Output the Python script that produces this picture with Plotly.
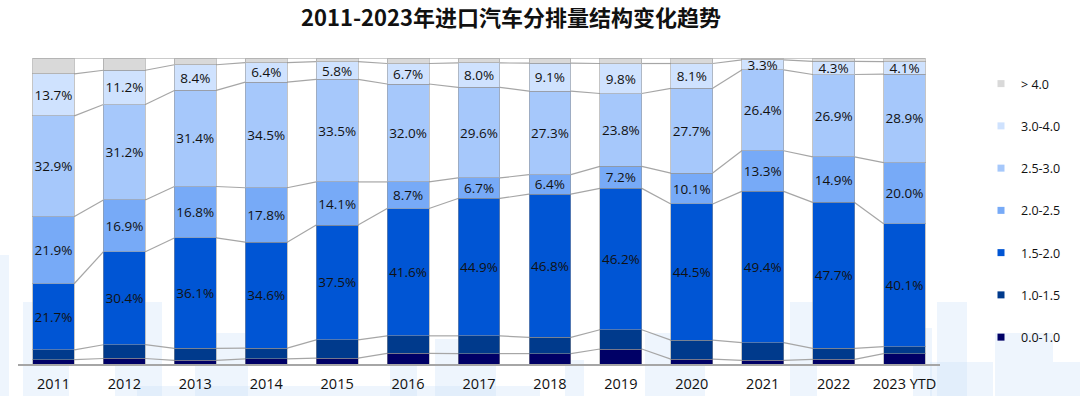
import plotly.graph_objects as go

years = ["2011", "2012", "2013", "2014", "2015", "2016", "2017", "2018",
         "2019", "2020", "2021", "2022", "2023 YTD"]

# share (%) by engine displacement, bottom to top
s_00_10 = [1.4, 1.8, 1.2, 1.7, 1.9, 3.5, 3.4, 3.4, 4.9, 1.6, 1.2, 1.5, 3.4]
s_10_15 = [3.2, 4.5, 3.9, 3.5, 6.0, 5.7, 5.8, 5.3, 6.3, 6.2, 5.8, 3.6, 2.3]
s_15_20 = [21.7, 30.4, 36.1, 34.6, 37.5, 41.6, 44.9, 46.8, 46.2, 44.5, 49.4, 47.7, 40.1]
s_20_25 = [21.9, 16.9, 16.8, 17.8, 14.1, 8.7, 6.7, 6.4, 7.2, 10.1, 13.3, 14.9, 20.0]
s_25_30 = [32.9, 31.2, 31.4, 34.5, 33.5, 32.0, 29.6, 27.3, 23.8, 27.7, 26.4, 26.9, 28.9]
s_30_40 = [13.7, 11.2, 8.4, 6.4, 5.8, 6.7, 8.0, 9.1, 9.8, 8.1, 3.3, 4.3, 4.1]
s_gt_40 = [5.2, 4.0, 2.2, 1.5, 1.2, 1.8, 1.6, 1.7, 1.8, 1.8, 0.6, 1.1, 1.2]

series = [
    ("0.0-1.0", s_00_10, "#000066", False),
    ("1.0-1.5", s_10_15, "#003a8c", False),
    ("1.5-2.0", s_15_20, "#0055d4", True),
    ("2.0-2.5", s_20_25, "#77aaf7", True),
    ("2.5-3.0", s_25_30, "#a6c8fb", True),
    ("3.0-4.0", s_30_40, "#cfe2fe", True),
    ("> 4.0", s_gt_40, "#d9d9d9", False),
]

BAR_W = 0.59
fig = go.Figure()

# decorative faint background blocks (pixel boxes -> paper coords)
L, R, T, B = 18, 940, 58, 364
deco = [(0, 255, 9, 396), (23, 302, 69, 396), (115, 302, 162, 396),
        (137, 386, 540, 396), (195, 333, 248, 396), (390, 328, 417, 396),
        (435, 339, 496, 396), (565, 360, 584, 396), (645, 333, 705, 396),
        (790, 302, 817, 396), (913, 328, 932, 396), (937, 302, 967, 396),
        (930, 362, 993, 396), (995, 333, 1053, 396), (1053, 362, 1080, 396)]
shapes = []
for x0, y0, x1, y1 in deco:
    shapes.append(dict(type="rect", xref="paper", yref="paper", layer="below",
                       x0=(x0 - L) / (R - L), x1=(x1 - L) / (R - L),
                       y0=(B - y1) / (B - T), y1=(B - y0) / (B - T),
                       fillcolor="rgba(200,222,250,0.30)", line=dict(width=0)))

for name, vals, color, lab in series:
    fig.add_trace(go.Bar(
        x=years, y=vals, name=name, showlegend=False,
        marker=dict(color=color, line=dict(color="rgba(150,150,150,0.55)", width=1)),
        text=[f"{v:.1f}%" for v in vals] if lab else None,
        textposition="inside" if lab else "none",
        insidetextanchor="middle", textangle=0,
        textfont=dict(color="#111111", size=13.5, family="Open Sans, sans-serif"),
        hoverinfo="skip",
    ))

# legend entries (small squares), top item first
for name, vals, color, lab in reversed(series):
    fig.add_trace(go.Scatter(
        x=[None], y=[None], mode="markers", name=name, legendgroup=name,
        marker=dict(symbol="square", size=7, color=color),
    ))

# connector lines between segment boundaries
cum = [0.0] * len(years)
levels = []
for name, vals, color, lab in series:
    cum = [c + v for c, v in zip(cum, vals)]
    levels.append(list(cum))
for lev in levels:
    for i in range(len(years) - 1):
        shapes.append(dict(type="line", xref="x", yref="y", layer="below",
                           x0=i + BAR_W / 2, y0=lev[i],
                           x1=i + 1 - BAR_W / 2, y1=lev[i + 1],
                           line=dict(color="#a6a6a6", width=1.2)))

fig.update_layout(
    width=1080, height=396,
    margin=dict(l=L, r=1080 - R, t=T, b=396 - B, autoexpand=False),
    barmode="stack", bargap=1 - BAR_W,
    paper_bgcolor="white", plot_bgcolor="rgba(0,0,0,0)",
    shapes=shapes,
    title=dict(text="<b>2011-2023年进口汽车分排量结构变化趋势</b>",
               x=511 / 1080, xref="container", xanchor="center",
               y=1 - 18 / 396, yref="container", yanchor="middle",
               font=dict(family="Noto Sans CJK SC", size=22, color="#111111")),
    xaxis=dict(type="category", showline=True, linecolor="#a6a6a6", linewidth=1.5,
               showgrid=False, ticks="", range=[-0.5, len(years) - 0.5],
               automargin=False, ticklabelstandoff=6,
               tickfont=dict(family="Open Sans, sans-serif", size=14.5, color="#111111")),
    yaxis=dict(visible=False, range=[0, 100], showgrid=False, automargin=False),
    legend=dict(x=(981 - L) / (R - L), xanchor="left", y=(B - 69) / (B - T), yanchor="top",
                traceorder="grouped", tracegroupgap=23,
                font=dict(family="Open Sans, sans-serif", size=12.5, color="#111111"),
                bgcolor="rgba(0,0,0,0)"),
    uniformtext=dict(minsize=13, mode="show"),
    font=dict(family="Open Sans, sans-serif"),
)

fig.write_html("out.html", config={"displayModeBar": False},
               post_script="document.body.style.margin='0';")
